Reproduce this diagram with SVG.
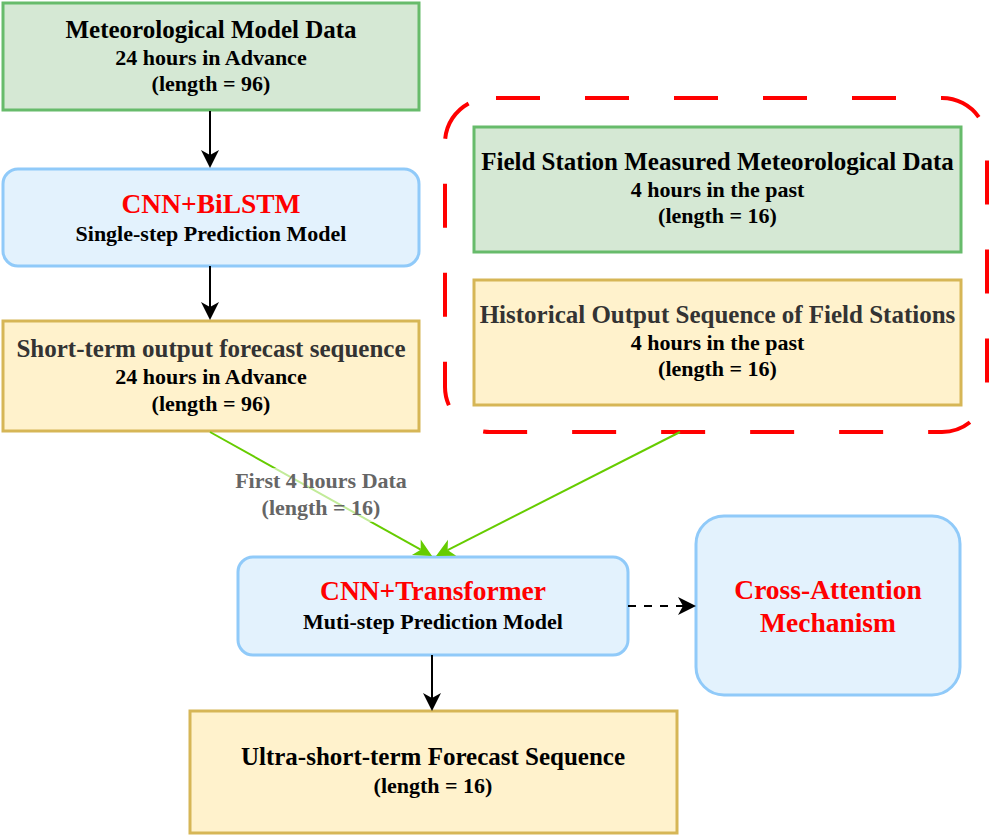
<svg xmlns="http://www.w3.org/2000/svg" width="991" height="837" viewBox="0 0 991 837">
<defs>
<style>
text{font-family:"Liberation Serif","Times New Roman",serif;font-weight:bold;text-anchor:middle}
.t{font-size:25px;fill:#000}
.s{font-size:22px;fill:#000}
.g{fill:#333}
.r{font-size:27.5px;fill:#ff0000}
.green{fill:#d5e8d4;stroke:#67bb6b;stroke-width:3}
.blue{fill:#e3f2fd;stroke:#90caf9;stroke-width:3}
.yellow{fill:#fff2cc;stroke:#d6b656;stroke-width:3}
.lbl{font-size:22px;fill:#666}
</style>
<marker id="ab" markerUnits="userSpaceOnUse" markerWidth="22" markerHeight="22" viewBox="-20 -11 22 22" refX="-13" refY="0" orient="auto">
<path d="M0,0 L-18,-9 L-13,0 L-18,9 Z" fill="#000"/>
</marker>
<marker id="ag" markerUnits="userSpaceOnUse" markerWidth="22" markerHeight="22" viewBox="-20 -11 22 22" refX="-13" refY="0" orient="auto">
<path d="M0,0 L-18,-9 L-13,0 L-18,9 Z" fill="#66cc00"/>
</marker>
</defs>

<g id="group-dashed">
<rect x="445" y="98" width="542" height="334" rx="45" fill="none" stroke="#ff0000" stroke-width="4" stroke-dasharray="44 45" stroke-dashoffset="-6"/>
</g>

<g id="node-meteo">
<rect class="green" x="3" y="3" width="416" height="107"/>
<text class="t" x="211" y="38">Meteorological Model Data</text>
<text class="s" x="211" y="65">24 hours in Advance</text>
<text class="s" x="211" y="91">(length = 96)</text>
</g>

<g id="node-bilstm">
<rect class="blue" x="3" y="169" width="416" height="97" rx="15"/>
<text class="r" x="211" y="213">CNN+BiLSTM</text>
<text class="s" x="211" y="241">Single-step Prediction Model</text>
</g>

<g id="node-short">
<rect class="yellow" x="3" y="321" width="416" height="110"/>
<text class="t g" x="211" y="357">Short-term output forecast sequence</text>
<text class="s" x="211" y="384">24 hours in Advance</text>
<text class="s" x="211" y="411">(length = 96)</text>
</g>

<g id="node-field">
<rect class="green" x="474" y="127" width="487" height="125"/>
<text class="t" x="717.5" y="170">Field Station Measured Meteorological Data</text>
<text class="s" x="717.5" y="197">4 hours in the past</text>
<text class="s" x="717.5" y="223">(length = 16)</text>
</g>

<g id="node-hist">
<rect class="yellow" x="474" y="280" width="487" height="125"/>
<text class="t g" x="717.5" y="323">Historical Output Sequence of Field Stations</text>
<text class="s" x="717.5" y="350">4 hours in the past</text>
<text class="s" x="717.5" y="376">(length = 16)</text>
</g>

<g id="node-transformer">
<rect class="blue" x="238" y="557" width="390" height="98" rx="15"/>
<text class="r" x="433" y="600">CNN+Transformer</text>
<text class="s" x="433" y="629">Muti-step Prediction Model</text>
</g>

<g id="node-cross">
<rect class="blue" x="696" y="516" width="264" height="179" rx="28"/>
<text class="r" x="828" y="599">Cross-Attention</text>
<text class="r" x="828" y="632">Mechanism</text>
</g>

<g id="node-ultra">
<rect class="yellow" x="190" y="711" width="487" height="122"/>
<text class="t" x="433" y="765">Ultra-short-term Forecast Sequence</text>
<text class="s" x="433" y="793">(length = 16)</text>
</g>

<g id="connectors">
<line x1="210" y1="111" x2="210" y2="155" stroke="#000" stroke-width="2" marker-end="url(#ab)"/>
<line x1="210" y1="266" x2="210" y2="307" stroke="#000" stroke-width="2" marker-end="url(#ab)"/>
<line x1="210" y1="432" x2="420.7" y2="549.7" stroke="#66cc00" stroke-width="2" marker-end="url(#ag)"/>
<line x1="680" y1="432" x2="447.6" y2="550.1" stroke="#66cc00" stroke-width="2" marker-end="url(#ag)"/>
<line x1="628" y1="606" x2="683" y2="606" stroke="#000" stroke-width="2" stroke-dasharray="8 8" marker-end="url(#ab)"/>
<line x1="432" y1="655" x2="432" y2="698" stroke="#000" stroke-width="2" marker-end="url(#ab)"/>
<g id="label-first">
<rect x="232" y="468" width="178" height="54" fill="#fff" fill-opacity="0.6"/>
<text class="lbl" x="321" y="488">First 4 hours Data</text>
<text class="lbl" x="321" y="515">(length = 16)</text>
</g>
</g>
</svg>
